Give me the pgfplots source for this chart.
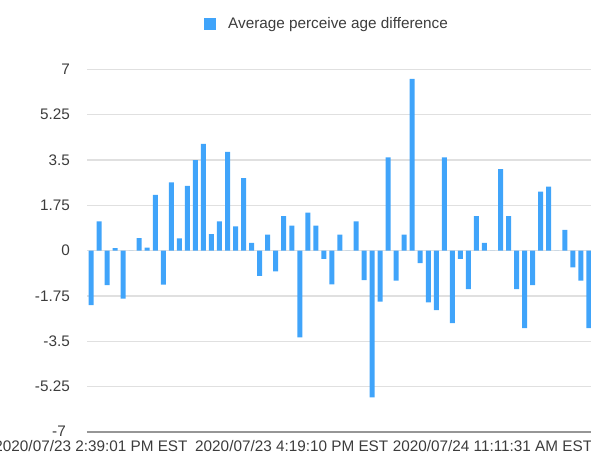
\documentclass[border=0pt]{standalone}
\usepackage{fontspec}
\setmainfont{Liberation Sans}
\usepackage{pgfplots}
\pgfplotsset{compat=1.18}
\usepackage{pgfplotstable}
\definecolor{barblue}{RGB}{64,164,250}
\definecolor{txt}{RGB}{60,60,60}
\definecolor{gridc}{RGB}{224,224,224}
\definecolor{axc}{RGB}{150,150,150}
\pgfplotstableread{
idx val
0 -2.1
1 1.13
2 -1.33
3 0.1
4 -1.85
5 0
6 0.49
7 0.12
8 2.16
9 -1.31
10 2.64
11 0.48
12 2.5
13 3.5
14 4.12
15 0.64
16 1.13
17 3.82
18 0.94
19 2.8
20 0.3
21 -0.97
22 0.62
23 -0.8
24 1.33
25 0.97
26 -3.35
27 1.47
28 0.97
29 -0.32
30 -1.3
31 0.62
32 0
33 1.13
34 -1.14
35 -5.66
36 -1.97
37 3.6
38 -1.16
39 0.62
40 6.63
41 -0.48
42 -2.0
43 -2.29
44 3.6
45 -2.8
46 -0.32
47 -1.48
48 1.33
49 0.3
50 0
51 3.15
52 1.33
53 -1.48
54 -2.99
55 -1.33
56 2.28
57 2.47
58 0
59 0.8
60 -0.64
61 -1.16
62 -2.99
}\datatable
\begin{document}
\begin{tikzpicture}
\begin{axis}[
  at={(0pt,0pt)}, anchor=south west,
  x=8.03pt, y=25.9pt,
  xmin=-0.5, xmax=62.8, ymin=-7, ymax=7,
  enlargelimits=false,
  axis line style={draw=none},
  major tick length=0pt,
  tick style={draw=none},
  ymajorgrids,
  grid style={gridc, line width=1.5pt},
  ytick={-5.25,-3.5,-1.75,0,1.75,3.5,5.25,7},
  yticklabels={-5.25,-3.5,-1.75,0,1.75,3.5,5.25,7},
  extra y ticks={-7},
  extra y tick labels={-7},
  extra y tick style={grid style={axc, line width=2pt}, yticklabel style={xshift=-4pt, yshift=1pt}},
  xtick={0,25,50},
  xticklabels={2020/07/23 2:39:01 PM EST, 2020/07/23 4:19:10 PM EST, 2020/07/24 11:11:31 AM EST},
  /pgf/number format/assume math mode=true,
  tick label style={font=\fontsize{15.3}{18}\selectfont, text=txt},
  yticklabel style={anchor=east, inner sep=0pt, xshift=-17pt},
  xticklabel style={anchor=north, inner sep=0pt, yshift=-8pt},
  legend style={at={(axis cs:14.07,8.76)}, anchor=west, draw=none, fill=none,
    inner sep=0pt, font=\fontsize{15.3}{18}\selectfont, text=txt,
    nodes={inner sep=0pt}, column sep=12pt},
  legend image code/.code={\fill[barblue] (0pt,-6pt) rectangle (12pt,6pt);},
]
\addplot[ybar, bar width=5pt, draw=none, fill=barblue] table[x=idx, y=val] {\datatable};
\addlegendentry{Average perceive age difference}
\end{axis}
\pgfresetboundingbox
\useasboundingbox (-87pt,-23pt) rectangle (504pt,432pt);
\end{tikzpicture}
\end{document}
